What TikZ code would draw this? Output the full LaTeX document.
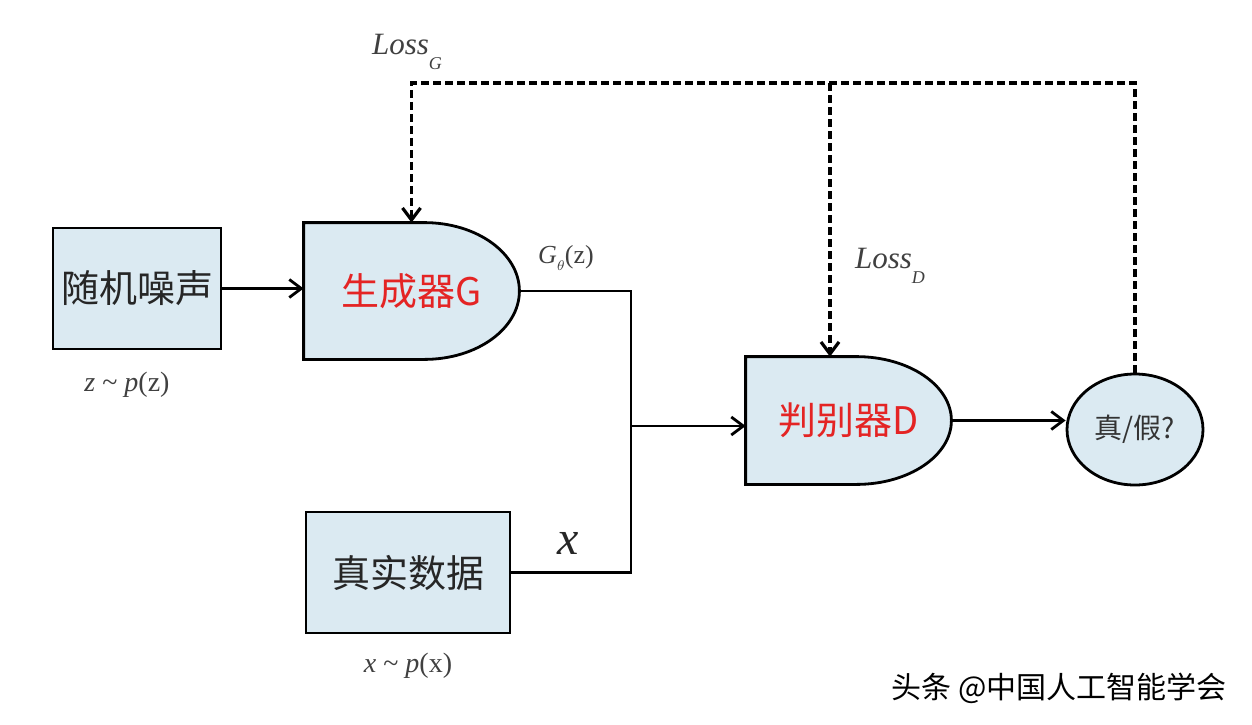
\documentclass[tikz,border=0pt]{standalone}
\usepackage{fontspec}
\setmainfont{Liberation Serif}
\newfontfamily\cjk{Noto Sans CJK SC}
\usetikzlibrary{arrows.meta,positioning,shapes.geometric,calc,backgrounds}
\definecolor{ganblue}{RGB}{219,234,242}
\definecolor{ganred}{RGB}{228,36,36}
\definecolor{gangray}{RGB}{64,64,64}

\begin{document}
\begin{tikzpicture}[x=0.5pt,y=-0.5pt,line width=1.4pt,
    box/.style={draw,fill=ganblue,minimum width=#1,minimum height=60.5pt,inner sep=0pt,
      font=\cjk\fontsize{19}{19}\selectfont,text=black!85},
    gatebody/.style={minimum width=#1,inner sep=0pt,font=\cjk\fontsize{19}{19}\selectfont,text=ganred},
    gateshape/.style={draw,fill=ganblue,line width=1.4pt},
    arr/.style={-{Straight Barb[length=6pt,width=9pt]}},
    fb/.style={arr,line width=1.6pt,dash pattern=on 4pt off 2pt},
    lbl/.style={text=gangray,inner sep=0pt}]
  \useasboundingbox (0,0) rectangle (1252,724);
  % Inputs
  \node[box=84pt] (noise) at (137,288.5) {随机噪声};
  \node[box=102pt] (real) at (408,572.5) {真实数据};
  \node[lbl,font=\fontsize{14}{14}\selectfont] (pz) at (127,385) {\textit{z} \textasciitilde{} \textit{p}(z)};
  \node[lbl,font=\fontsize{14}{14}\selectfont] (px) at (408,666) {\textit{x} \textasciitilde{} \textit{p}(x)};
  % Generator and discriminator
  \node[gatebody=106.5pt,minimum height=67pt] (gen) at (411.5,291) {生成器G};
  \node[gatebody=101.5pt,minimum height=62.5pt] (disc) at (848.5,420.5) {判别器D};
  \begin{scope}[on background layer]
    \foreach \g in {gen,disc}
      \draw[gateshape] (\g.north west) -- ([xshift=-47.5pt]\g.north east)
        .. controls ([xshift=-21.3pt]\g.north east) and ($(\g.east)!0.552!(\g.north east)$) .. (\g.east)
        .. controls ($(\g.east)!0.552!(\g.south east)$) and ([xshift=-21.3pt]\g.south east) .. ([xshift=-47.5pt]\g.south east)
        -- (\g.south west) -- cycle;
  \end{scope}
  % Output
  \node[ellipse,draw,fill=ganblue,minimum width=68pt,minimum height=55.5pt,inner sep=0pt,
    font=\cjk\fontsize{14}{14}\selectfont,text=black!80] (out) at (1135,429.5) {真/假?};
  % Data flow
  \coordinate (merge) at (631,426);
  \draw[arr] (noise.east) -- (noise.east -| gen.west);
  \draw (gen.east) -| (merge);
  \draw (real.east) -| (merge);
  \draw[arr] (merge) -- (merge -| disc.west);
  \draw[arr] (disc.east) -- (disc.east -| out.west);
  \node[lbl,font=\fontsize{13}{13}\selectfont] (gz) at (566,258) {\textit{G}\raisebox{-0.6ex}{\scriptsize$\theta$}(z)};
  \node[lbl,font=\fontsize{24}{24}\itshape\selectfont,text=black!85] (xlab) at (568,543) {x};
  % Losses
  \coordinate (lossbar) at (830,83);
  \draw[fb] (out.north) |- (gen.north |- lossbar) -- (gen.north);
  \draw[fb] (lossbar) -- (lossbar |- disc.north);
  \node[lbl,font=\fontsize{15.5}{15.5}\selectfont] (lossG) at (407,52) {\textit{Loss}\raisebox{-1.1ex}{\fontsize{9}{9}\selectfont\textit{G}}};
  \node[lbl,font=\fontsize{15.5}{15.5}\selectfont] (lossD) at (890,266) {\textit{Loss}\raisebox{-1.1ex}{\fontsize{9}{9}\selectfont\textit{D}}};
  % Watermark
  \node[font=\cjk\fontsize{15}{15}\selectfont,anchor=east,inner sep=0pt] (mark) at (1228,688) {头条 @中国人工智能学会};
\end{tikzpicture}
\end{document}
